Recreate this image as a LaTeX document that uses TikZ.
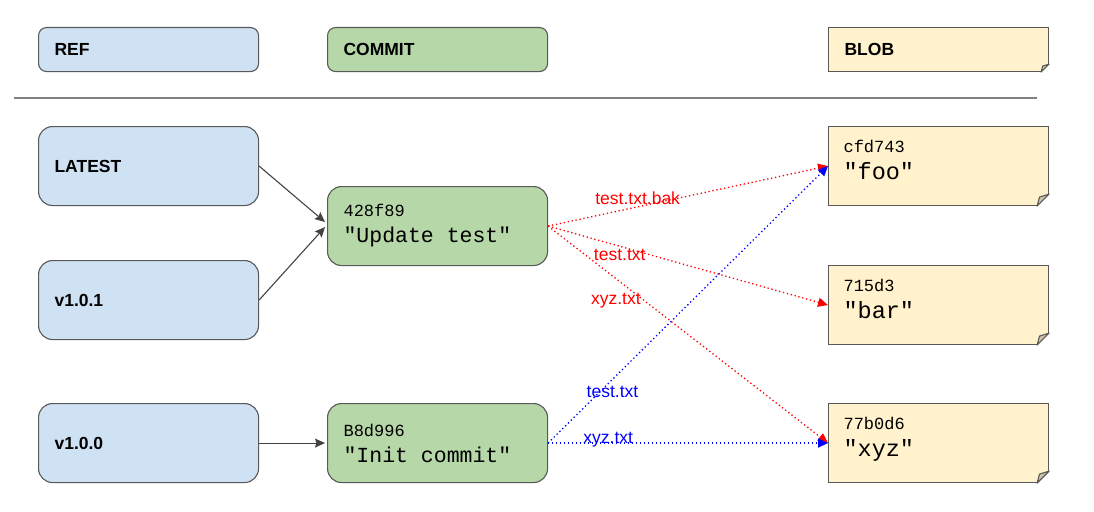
\documentclass[tikz,border=0pt]{standalone}
\usepackage{fontspec}
\setmainfont{Liberation Sans}
\newfontfamily\hashfont{Liberation Mono}
\newcommand{\hashklein}{\hashfont\fontsize{17}{20}\selectfont}
\newcommand{\blobtiefe}{\rule[-13pt]{0pt}{0pt}}
\newcommand{\leer}{\hspace{0.6em}}
\usetikzlibrary{arrows.meta}
\definecolor{refblau}{HTML}{CFE2F3}
\definecolor{commitgruen}{HTML}{B6D7A8}
\definecolor{blobgelb}{HTML}{FFF2CC}
\definecolor{rand}{HTML}{595959}
\definecolor{falte}{HTML}{CCC3A8}
\definecolor{pfeilgrau}{HTML}{434343}

\begin{document}
\begin{tikzpicture}[x=1pt,y=-1pt,
  kopf/.style={anchor=north west,draw=rand,line width=1.1pt,rounded corners=8pt,
    minimum width=220pt,minimum height=44pt,text width=188pt,inner xsep=16pt,
    align=left,font=\bfseries\fontsize{17.5}{20}\selectfont},
  kasten/.style={kopf,rounded corners=14pt,minimum height=79pt},
  blobkasten/.style={kasten,sharp corners,fill=blobgelb,inner xsep=15pt,text width=190pt,
    font=\hashfont\fontsize{23.5}{27}\selectfont},
  commitkasten/.style={kasten,fill=commitgruen,font=\hashfont\fontsize{21.5}{26}\selectfont},
  verweis/.style={draw=pfeilgrau,line width=1.1pt,-{Stealth[length=10pt,width=9pt,inset=1.5pt]}},
  rotpfeil/.style={draw=red,line width=1.3pt,dash pattern=on 1.3pt off 2.7pt,
    -{Triangle[length=10pt,width=9pt]}},
  blaupfeil/.style={rotpfeil,draw=blue},
  dateiname/.style={font=\fontsize{17.5}{20}\selectfont,inner sep=0pt,anchor=base}
]
  \useasboundingbox (0,0) rectangle (1094,511);

  % Legende
  \node[kopf,fill=refblau] (ref-kopf) at (38,27) {REF};
  \node[kopf,fill=commitgruen] (commit-kopf) at (327,27) {COMMIT};
  \node[kopf,fill=blobgelb,sharp corners] (blob-kopf) at (828,27) {BLOB};
  \draw[draw=gray,line width=1.1pt] (14,98) -- (1037,98);

  % Refs
  \node[kasten,fill=refblau] (latest) at (38,126) {LATEST};
  \node[kasten,fill=refblau] (v101) at (38,260) {v1.0.1};
  \node[kasten,fill=refblau] (v100) at (38,403) {v1.0.0};

  % Commits
  \node[commitkasten] (commit-update) at (327,186)
  {{\hashklein 428f89}\\"Update\leer test"};
  \node[commitkasten] (commit-init) at (327,403)
  {{\hashklein B8d996}\\"Init\leer commit"};

  % Blobs
  \node[blobkasten] (blob-foo) at (828,126) {{\hashklein cfd743}\\"foo"\blobtiefe};
  \node[blobkasten] (blob-bar) at (828,265) {{\hashklein 715d3}\\"bar"\blobtiefe};
  \node[blobkasten] (blob-xyz) at (828,403) {{\hashklein 77b0d6}\\"xyz"\blobtiefe};

  % Eselsohren
  \foreach \b/\s in {blob-kopf/8,blob-foo/12,blob-bar/12,blob-xyz/12}{
    \fill[white] ([shift={(1.5,1.5)}]\b.south east) -- ([shift={(1.5,-\s-1.5)}]\b.south east)
      -- ([shift={(-\s-1.5,1.5)}]\b.south east) -- cycle;
    \filldraw[fill=falte,draw=rand,line width=1.1pt,line join=round]
      ([yshift=\s pt]\b.south east) -- ([xshift=-\s pt]\b.south east)
      -- ([shift={(-0.8*\s,-0.75*\s)}]\b.south east) -- cycle;
  }

  % Verweise
  \draw[verweis] (latest.east) -- ([yshift=4pt,xshift=-2pt]commit-update.west);
  \draw[verweis] (v101.east) -- ([yshift=-1pt,xshift=-2pt]commit-update.west);
  \draw[verweis] (v100.east) -- ([xshift=-2pt]commit-init.west);

  % Baeume
  \draw[rotpfeil] (commit-update.east) --
    node[dateiname,red,pos=0.32,yshift=2pt]{test.txt.bak} (blob-foo.west);
  \draw[rotpfeil] (commit-update.east) --
    node[dateiname,red,pos=0.256,yshift=-14pt]{test.txt} (blob-bar.west);
  \draw[rotpfeil] (commit-update.east) --
    node[dateiname,red,pos=0.242,yshift=-26pt]{xyz.txt} (blob-xyz.west);
  \draw[blaupfeil] (commit-init.east) --
    node[dateiname,blue,pos=0.23,yshift=-18pt]{test.txt} (blob-foo.west);
  \draw[blaupfeil] (commit-init.east) --
    node[dateiname,blue,pos=0.215]{xyz.txt} (blob-xyz.west);
\end{tikzpicture}
\end{document}
